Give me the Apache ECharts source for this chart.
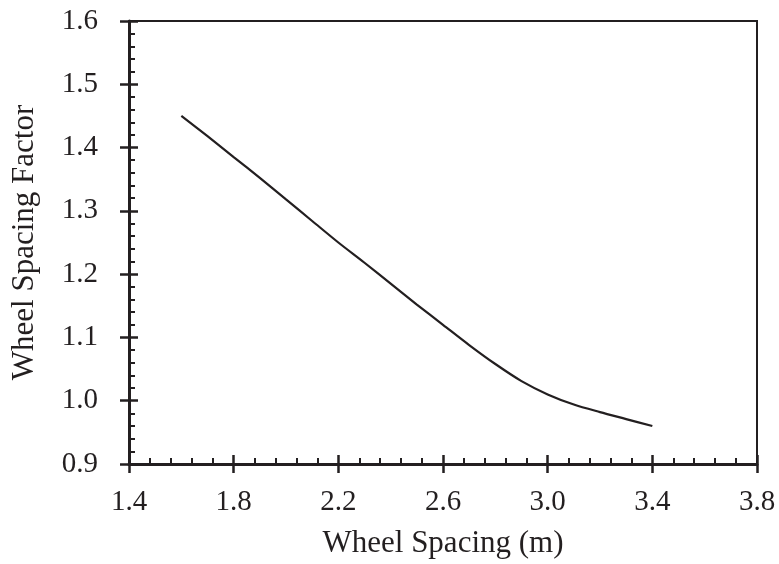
<!DOCTYPE html>
<html>
<head>
<meta charset="utf-8">
<script src="https://cdn.jsdelivr.net/npm/echarts@6/dist/echarts.min.js"></script>
<style>
  html, body { margin: 0; padding: 0; background: #fff; }
  #chart { width: 779px; height: 564px; }
</style>
</head>
<body>
<div id="chart"></div>
<script>
// wheel spacing (m) vs factor
const spacing = [1.6, 1.7, 1.8, 1.9, 2.0, 2.1, 2.2, 2.3, 2.4, 2.5, 2.6, 2.7, 2.8, 2.9, 3.0, 3.1, 3.2, 3.3, 3.4]
const factor = [1.450, 1.418, 1.385, 1.352, 1.318, 1.284, 1.250, 1.218, 1.185, 1.152, 1.120, 1.088, 1.058, 1.031, 1.010, 0.994, 0.982, 0.971, 0.960]

// tick labels
const xTicks = [1.4, 1.8, 2.2, 2.6, 3.0, 3.4, 3.8]
const yTicks = [0.9, 1.0, 1.1, 1.2, 1.3, 1.4, 1.5, 1.6]

const ink = '#231f20'
const font = 'Liberation Serif'

// minor x ticks: 5 steps between the labelled ones
let xMinor = []
for (let i = 0; i < xTicks.length - 1; i++) {
  const step = (xTicks[i + 1] - xTicks[i]) / 5
  for (let k = 1; k < 5; k++) {
    xMinor.push(+(xTicks[i] + step * k).toFixed(3))
  }
}

const chart = echarts.init(document.getElementById('chart'))

const xBase = {
  type: 'value',
  position: 'bottom',
  min: xTicks[0],
  max: xTicks[xTicks.length - 1],
  splitLine: { show: false }
}
const yBase = {
  type: 'value',
  position: 'left',
  min: yTicks[0],
  max: yTicks[yTicks.length - 1],
  interval: 0.1,
  splitLine: { show: false }
}

chart.setOption({
  animation: false,
  textStyle: { fontFamily: font, color: ink },
  grid: {
    left: 129,
    right: 22,
    top: 21,
    bottom: 100,
    show: true,
    borderColor: ink,
    borderWidth: 2
  },
  xAxis: [
    Object.assign({}, xBase, {
      name: 'Wheel Spacing (m)',
      nameLocation: 'middle',
      nameGap: 64,
      nameTextStyle: { fontFamily: font, fontSize: 31, color: ink },
      axisLine: { lineStyle: { color: ink, width: 3 } },
      axisTick: { inside: true, length: 9, lineStyle: { color: ink, width: 2.5 }, customValues: xTicks },
      axisLabel: {
        fontFamily: font, fontSize: 29, color: ink, margin: 24,
        customValues: xTicks,
        formatter: v => v.toFixed(1)
      }
    }),
    Object.assign({}, xBase, {
      axisLine: { show: false },
      axisTick: { inside: false, length: 9, lineStyle: { color: ink, width: 2.5 }, customValues: xTicks },
      axisLabel: { show: false }
    }),
    Object.assign({}, xBase, {
      axisLine: { show: false },
      axisTick: { inside: true, length: 6, lineStyle: { color: ink, width: 2 }, customValues: xMinor },
      axisLabel: { show: false }
    })
  ],
  yAxis: [
    Object.assign({}, yBase, {
      name: 'Wheel Spacing Factor',
      nameLocation: 'middle',
      nameGap: 89,
      nameTextStyle: { fontFamily: font, fontSize: 31, color: ink },
      axisLine: { lineStyle: { color: ink, width: 3 } },
      axisTick: { inside: true, length: 9, lineStyle: { color: ink, width: 2.5 } },
      minorTick: { show: true, splitNumber: 5, length: 6, lineStyle: { color: ink, width: 2 } },
      axisLabel: {
        fontFamily: font, fontSize: 29, color: ink, margin: 31,
        formatter: v => v.toFixed(1)
      }
    }),
    Object.assign({}, yBase, {
      axisLine: { show: false },
      axisTick: { inside: false, length: 9, lineStyle: { color: ink, width: 2.5 } },
      axisLabel: { show: false }
    })
  ],
  series: [
    {
      type: 'line',
      xAxisIndex: 0,
      yAxisIndex: 0,
      data: spacing.map((x, i) => [x, factor[i]]),
      smooth: 0.3,
      symbol: 'none',
      lineStyle: { color: ink, width: 2.2 }
    }
  ]
})
</script>
</body>
</html>
